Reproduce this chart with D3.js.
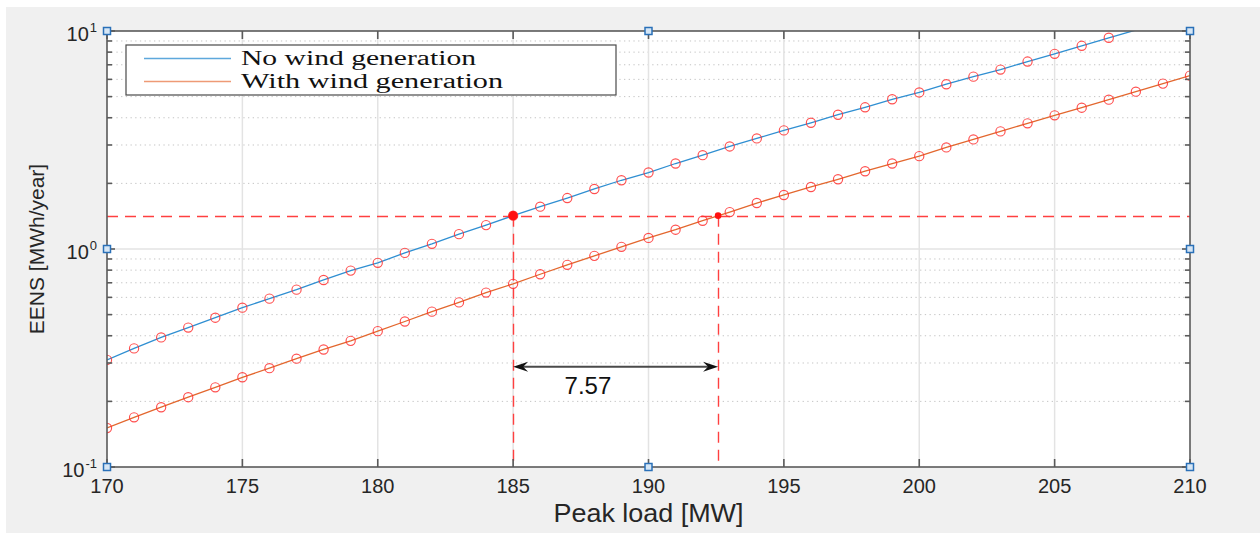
<!DOCTYPE html>
<html>
<head>
<meta charset="utf-8">
<script src="https://cdn.jsdelivr.net/npm/d3@7/dist/d3.min.js"></script>
<style>
  html, body { margin: 0; padding: 0; background: #ffffff; }
  svg { display: block; }
</style>
</head>
<body>
<svg id="chart" width="1260" height="533"></svg>
<script>
// Peak load (MW) at which each EENS value was evaluated
const loadNoWind = [170,171,172,173,174,175,176,177,178,179,180,181,182,183,184,185,186,187,188,189,
                    190,191,192,193,194,195,196,197,198,199,200,201,202,203,204,205,206,207,208];
const loadWithWind = [170,171,172,173,174,175,176,177,178,179,180,181,182,183,184,185,186,187,188,189,
                      190,191,192,193,194,195,196,197,198,199,200,201,202,203,204,205,206,207,208,209,210];

// EENS [MWh/year] without wind generation
const eensNoWind = [0.310,0.350,0.393,0.436,0.484,0.538,0.592,0.651,0.721,0.796,
                    0.864,0.960,1.056,1.170,1.287,1.422,1.564,1.713,1.885,2.067,
                    2.243,2.467,2.694,2.954,3.216,3.500,3.794,4.129,4.467,4.862,
                    5.225,5.699,6.176,6.653,7.243,7.858,8.553,9.309,10.10];

// EENS [MWh/year] with wind generation
const eensWithWind = [0.151,0.169,0.188,0.209,0.232,0.258,0.284,0.314,0.346,0.379,
                      0.420,0.465,0.516,0.569,0.631,0.692,0.766,0.846,0.930,1.023,
                      1.124,1.226,1.348,1.477,1.625,1.769,1.925,2.089,2.274,2.467,
                      2.667,2.923,3.182,3.463,3.771,4.104,4.448,4.841,5.268,5.736,6.243];

const seriesNames = ["No wind generation", "With wind generation"];

// Axis ticks
const xTicks = [170,175,180,185,190,195,200,205,210];
const yDecades = [0.1, 1, 10];
const yDecadeLabels = [["10","-1"],["10","0"],["10","1"]];
const yMinor = [0.2,0.3,0.4,0.5,0.6,0.7,0.8,0.9,2,3,4,5,6,7,8,9];

// Equal-reliability comparison: same EENS level reached at a higher peak load
const refLoad = 185;
const refEENS = 1.422;
const loadCarryingGain = 7.57;
const arrowEENS = 0.288;
const gainLabelEENS = 0.217;

const svg = d3.select("#chart");
const W = 1260, H = 533;
const plotL = 107, plotR = 1190, plotT = 31, plotB = 467;

const x = d3.scaleLinear().domain([170, 210]).range([plotL, plotR]);
const y = d3.scaleLog().domain([0.1, 10]).range([plotB, plotT]);

const ink = "#262626";
const sans = "'Liberation Sans', Arial, Helvetica, sans-serif";

// figure background
svg.append("rect").attr("x", 0).attr("y", 0).attr("width", W).attr("height", H).attr("fill", "#ffffff");
svg.append("rect").attr("x", 6).attr("y", 7).attr("width", W - 6).attr("height", H - 7).attr("fill", "#f0f0f0");

// axes background
svg.append("rect").attr("x", plotL).attr("y", plotT).attr("width", plotR - plotL).attr("height", plotB - plotT)
  .attr("fill", "#ffffff");

svg.append("defs").append("clipPath").attr("id", "plotClip")
  .append("rect").attr("x", plotL).attr("y", plotT).attr("width", plotR - plotL).attr("height", plotB - plotT);

// minor grid (dotted)
const grid = svg.append("g");
grid.selectAll(".minor").data(yMinor).join("line")
  .attr("x1", plotL).attr("x2", plotR)
  .attr("y1", d => y(d)).attr("y2", d => y(d))
  .attr("stroke", "#c4c4c4").attr("stroke-width", 1)
  .attr("stroke-dasharray", "1.3,3.4");

// major grid (solid)
grid.selectAll(".vmaj").data(xTicks.slice(1, -1)).join("line")
  .attr("x1", d => x(d)).attr("x2", d => x(d))
  .attr("y1", plotT).attr("y2", plotB)
  .attr("stroke", "#e3e3e3").attr("stroke-width", 1.5);
grid.selectAll(".hmaj").data([1]).join("line")
  .attr("x1", plotL).attr("x2", plotR)
  .attr("y1", d => y(d)).attr("y2", d => y(d))
  .attr("stroke", "#e3e3e3").attr("stroke-width", 1.5);

const plot = svg.append("g").attr("clip-path", "url(#plotClip)");

// reference dashed lines
const refColor = "#ff4040";
const dash = "11,7";
const snap = v => Math.round(v) + 0.5;
plot.append("line")
  .attr("x1", plotL).attr("x2", plotR)
  .attr("y1", snap(y(refEENS))).attr("y2", snap(y(refEENS)))
  .attr("stroke", refColor).attr("stroke-width", 1.4).attr("stroke-dasharray", dash);
[refLoad, refLoad + loadCarryingGain].forEach(v => {
  plot.append("line")
    .attr("x1", snap(x(v))).attr("x2", snap(x(v)))
    .attr("y1", y(refEENS)).attr("y2", plotB)
    .attr("stroke", refColor).attr("stroke-width", 1.4).attr("stroke-dasharray", dash);
});

// series lines
const blue = "#2f8fd2", orange = "#e3672e";
const noWind = loadNoWind.map((l, i) => ({ load: l, eens: eensNoWind[i] }));
const withWind = loadWithWind.map((l, i) => ({ load: l, eens: eensWithWind[i] }));
const line = d3.line().x(d => x(d.load)).y(d => y(d.eens));

plot.append("path").datum(noWind).attr("d", line)
  .attr("fill", "none").attr("stroke", blue).attr("stroke-width", 1.3);
plot.append("path").datum(withWind).attr("d", line)
  .attr("fill", "none").attr("stroke", orange).attr("stroke-width", 1.3);

// circle markers
const markerColor = "#ff3030";
[noWind, withWind].forEach(series => {
  plot.append("g").selectAll("circle")
    .data(series.filter(d => d.eens <= 10))
    .join("circle")
    .attr("cx", d => x(d.load)).attr("cy", d => y(d.eens))
    .attr("r", 4.6)
    .attr("fill", "none").attr("stroke", markerColor).attr("stroke-width", 1.15)
    .attr("stroke-opacity", 0.85);
});

// highlighted points
plot.append("circle").attr("cx", x(refLoad)).attr("cy", y(refEENS)).attr("r", 4.6).attr("fill", "#ff1010");
plot.append("circle").attr("cx", x(refLoad + loadCarryingGain)).attr("cy", y(refEENS)).attr("r", 3.3).attr("fill", "#ff1010");

// double-headed arrow for the load shift
const ax0 = x(refLoad), ax1 = x(refLoad + loadCarryingGain), ay = y(arrowEENS);
svg.append("line").attr("x1", ax0 + 6).attr("x2", ax1 - 6).attr("y1", ay).attr("y2", ay)
  .attr("stroke", "#4a4a4a").attr("stroke-width", 2);
const head = (tx, dir) => {
  const L = 15, w = 5, n = 10;
  return `M${tx},${ay} L${tx + dir * L},${ay - w} L${tx + dir * n},${ay} L${tx + dir * L},${ay + w} Z`;
};
svg.append("path").attr("d", head(ax0, 1)).attr("fill", "#111");
svg.append("path").attr("d", head(ax1, -1)).attr("fill", "#111");
svg.append("text")
  .attr("x", x(refLoad + loadCarryingGain * 0.365)).attr("y", y(gainLabelEENS))
  .attr("text-anchor", "middle")
  .attr("font-family", sans).attr("font-size", 24).attr("fill", "#111")
  .text(loadCarryingGain.toFixed(2));

// axes box
const axisColor = "#5a5a5a";
svg.append("rect").attr("x", plotL).attr("y", plotT).attr("width", plotR - plotL).attr("height", plotB - plotT)
  .attr("fill", "none").attr("stroke", axisColor).attr("stroke-width", 1.6);

// x ticks (inward, bottom and top)
const tk = svg.append("g").attr("stroke", axisColor).attr("stroke-width", 1.6);
xTicks.forEach(v => {
  tk.append("line").attr("x1", x(v)).attr("x2", x(v)).attr("y1", plotB).attr("y2", plotB - 8);
  tk.append("line").attr("x1", x(v)).attr("x2", x(v)).attr("y1", plotT).attr("y2", plotT + 8);
});
// y ticks (inward, left and right)
yDecades.forEach(v => {
  tk.append("line").attr("x1", plotL).attr("x2", plotL + 8).attr("y1", y(v)).attr("y2", y(v));
  tk.append("line").attr("x1", plotR).attr("x2", plotR - 8).attr("y1", y(v)).attr("y2", y(v));
});
yMinor.forEach(v => {
  tk.append("line").attr("x1", plotL).attr("x2", plotL + 5).attr("y1", y(v)).attr("y2", y(v));
  tk.append("line").attr("x1", plotR).attr("x2", plotR - 5).attr("y1", y(v)).attr("y2", y(v));
});

// x tick labels
svg.append("g").selectAll("text").data(xTicks).join("text")
  .attr("x", d => x(d)).attr("y", plotB + 26)
  .attr("text-anchor", "middle")
  .attr("font-family", sans).attr("font-size", 20).attr("fill", ink)
  .text(d => d);

// y tick labels with superscript exponents
const yl = svg.append("g");
yDecades.forEach((v, i) => {
  const t = yl.append("text")
    .attr("x", plotL - 10).attr("y", y(v) + 10)
    .attr("text-anchor", "end")
    .attr("font-family", sans).attr("fill", ink);
  t.append("tspan").attr("font-size", 20).text(yDecadeLabels[i][0]);
  t.append("tspan").attr("font-size", 13).attr("dy", -9).attr("dx", 1).text(yDecadeLabels[i][1]);
});

// axis titles
svg.append("text")
  .attr("x", (plotL + plotR) / 2).attr("y", 522)
  .attr("text-anchor", "middle")
  .attr("font-family", sans).attr("font-size", 25).attr("fill", ink)
  .attr("textLength", 190).attr("lengthAdjust", "spacingAndGlyphs")
  .text("Peak load [MW]");
svg.append("text")
  .attr("transform", `translate(44,${y(1)}) rotate(-90)`)
  .attr("text-anchor", "middle")
  .attr("font-family", sans).attr("font-size", 21).attr("fill", ink)
  .text("EENS [MWh/year]");

// axes selection handles
const handleX = [170, 190, 210];
const handles = [];
handleX.forEach(v => { handles.push([v, 0.1]); handles.push([v, 10]); });
handles.push([170, 1]); handles.push([210, 1]);
svg.append("g").selectAll("rect").data(handles).join("rect")
  .attr("x", d => x(d[0]) - 3.5).attr("y", d => y(d[1]) - 3.5)
  .attr("width", 7).attr("height", 7)
  .attr("fill", "#d6e6f5").attr("stroke", "#2a70b8").attr("stroke-width", 1.5);

// legend
const lg = svg.append("g");
lg.append("rect").attr("x", 126).attr("y", 45).attr("width", 490).attr("height", 50)
  .attr("fill", "#ffffff").attr("stroke", "#4a4a4a").attr("stroke-width", 1.2);
const legendColors = ["#5ea8dc", "#ee9a76"];
const legendWidths = [235, 262];
seriesNames.forEach((name, i) => {
  const ly = 58.5 + i * 23;
  lg.append("line").attr("x1", 144).attr("x2", 231).attr("y1", ly).attr("y2", ly)
    .attr("stroke", legendColors[i]).attr("stroke-width", 1.6);
  lg.append("text").attr("x", 241).attr("y", ly + 6)
    .attr("font-family", "'Liberation Serif', 'DejaVu Serif', serif")
    .attr("font-size", 20.5).attr("fill", "#111")
    .attr("textLength", legendWidths[i]).attr("lengthAdjust", "spacingAndGlyphs")
    .text(name);
});
</script>
</body>
</html>
